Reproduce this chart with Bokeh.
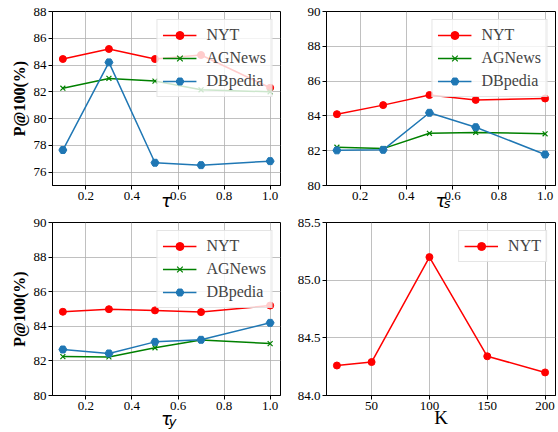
from bokeh.plotting import figure
from bokeh.models import FixedTicker, NumeralTickFormatter, Range1d, LinearAxis
from bokeh.layouts import column, row
from bokeh.embed import file_html
from bokeh.resources import INLINE

# ---- data ----
tau = [0.1, 0.3, 0.5, 0.7, 1.0]
tau_nyt = [84.45, 85.2, 84.45, 84.75, 82.3]
tau_ag = [82.27, 83.0, 82.8, 82.15, 82.0]
tau_db = [77.65, 84.2, 76.7, 76.52, 76.82]

taus_nyt = [84.1, 84.62, 85.2, 84.92, 85.0]
taus_ag = [82.2, 82.12, 83.0, 83.05, 82.97]
taus_db = [82.02, 82.05, 84.18, 83.35, 81.78]

tauy_nyt = [84.84, 84.99, 84.92, 84.82, 85.2]
tauy_ag = [82.25, 82.23, 82.76, 83.21, 83.0]
tauy_db = [82.66, 82.43, 83.1, 83.22, 84.2]

k_vals = [20, 50, 100, 150, 200]
k_nyt = [84.26, 84.29, 85.2, 84.34, 84.2]

tau_ticks = [0.2, 0.4, 0.6, 0.8, 1.0]
k_ticks = [50, 100, 150, 200]
y1_ticks = [76, 78, 80, 82, 84, 86, 88]
y23_ticks = [80, 82, 84, 86, 88, 90]
y4_ticks = [84.0, 84.5, 85.0, 85.5]

RED = "#ff0000"
GREEN = "#008000"
BLUE = "#1f77b4"
SERIF = "'Liberation Serif'"
MATH = "'DejaVu Sans'"


def make_fig(width, height, left, right, top, bottom, xr, yr, xt, yt, xfmt, yfmt):
    p = figure(width=width, height=height, output_backend="svg", toolbar_location=None,
               x_range=Range1d(*xr), y_range=Range1d(*yr),
               min_border_left=left, min_border_right=right,
               min_border_top=top, min_border_bottom=bottom)
    p.outline_line_color = "black"
    p.outline_line_width = 1
    p.outline_line_alpha = 1
    p.xaxis.ticker = FixedTicker(ticks=xt)
    p.xaxis.formatter = NumeralTickFormatter(format=xfmt)
    p.yaxis.ticker = FixedTicker(ticks=yt)
    p.yaxis.formatter = NumeralTickFormatter(format=yfmt)
    for ax in (p.xaxis[0], p.yaxis[0]):
        ax.major_tick_out = 4
        ax.major_tick_in = 0
        ax.minor_tick_line_color = None
        ax.major_label_standoff = 2
        ax.major_label_text_font = SERIF
        ax.major_label_text_font_size = "13px"
        ax.major_label_text_color = "black"
        ax.axis_line_color = "black"
        ax.major_tick_line_color = "black"
    p.grid.grid_line_color = "#b0b0b0"
    p.grid.grid_line_width = 0.8
    return p


def add_series(p, x, y, color, marker, label, size):
    p.line(x, y, line_color=color, line_width=1.5, legend_label=label)
    if marker == "x":
        p.scatter(x, y, marker="x", size=size, line_color=color, line_width=1.2,
                  legend_label=label)
    else:
        p.scatter(x, y, marker=marker, size=size, fill_color=color, line_color=color,
                  legend_label=label)


def style_legend(p):
    lg = p.legend[0]
    lg.location = "top_right"
    lg.margin = 8
    lg.label_text_font = SERIF
    lg.label_text_font_size = "16px"
    lg.glyph_width = 34
    lg.glyph_height = 20
    lg.label_height = 20
    lg.label_standoff = 10
    lg.spacing = 3
    lg.padding = 5
    lg.border_line_color = "#cccccc"
    lg.border_line_width = 1
    lg.background_fill_color = "white"
    lg.background_fill_alpha = 0.8


def xlabel(p, text, standoff, font=MATH, style="italic", size="18px"):
    ax = p.xaxis[0]
    ax.axis_label = text
    ax.axis_label_text_font = font
    ax.axis_label_text_font_style = style
    ax.axis_label_text_font_size = size
    ax.axis_label_text_color = "black"
    ax.axis_label_standoff = standoff


def subscript(p, text, standoff):
    ax = LinearAxis(ticker=FixedTicker(ticks=[]), axis_line_color=None,
                    major_tick_line_color=None, minor_tick_line_color=None,
                    major_label_text_font_size="0px", major_tick_out=0, major_tick_in=0,
                    major_label_standoff=0,
                    axis_label=text, axis_label_text_font=MATH,
                    axis_label_text_font_style="italic", axis_label_text_font_size="13px",
                    axis_label_text_color="black", axis_label_standoff=standoff)
    p.add_layout(ax, "below")


def ylabel(p, standoff):
    ax = p.yaxis[0]
    ax.axis_label = "P@100(%)"
    ax.axis_label_text_font = SERIF
    ax.axis_label_text_font_style = "bold"
    ax.axis_label_text_font_size = "16px"
    ax.axis_label_text_color = "black"
    ax.axis_label_standoff = standoff


LW, LL, LR = 282, 52, 2
RW, RL, RR = 276, 44, 3
TH, TT, TB = 214, 11, 29
BH, BT, BB = 218, 8, 37

# panel 1: tau
p1 = make_fig(LW, TH, LL, LR, TT, TB, (0.055, 1.045), (75, 88), tau_ticks, y1_ticks, "0.0", "0")
add_series(p1, tau, tau_nyt, RED, "circle", "NYT", 7)
add_series(p1, tau, tau_ag, GREEN, "x", "AGNews", 7)
add_series(p1, tau, tau_db, BLUE, "hex", "DBpedia", 8)
style_legend(p1)
xlabel(p1, "τ", -13)
ylabel(p1, 3)

# panel 2: tau_s
p2 = make_fig(RW, TH, RL, RR, TT, TB, (0.055, 1.045), (80, 90), tau_ticks, y23_ticks, "0.0", "0")
add_series(p2, tau, taus_nyt, RED, "circle", "NYT", 7)
add_series(p2, tau, taus_ag, GREEN, "x", "AGNews", 7)
add_series(p2, tau, taus_db, BLUE, "hex", "DBpedia", 8)
style_legend(p2)
xlabel(p2, "τ", -13)
subscript(p2, "\u00a0\u00a0\u00a0s", -18)

# panel 3: tau_y
p3 = make_fig(LW, BH, LL, LR, BT, BB, (0.055, 1.045), (80, 90), tau_ticks, y23_ticks, "0.0", "0")
add_series(p3, tau, tauy_nyt, RED, "circle", "NYT", 7)
add_series(p3, tau, tauy_ag, GREEN, "x", "AGNews", 7)
add_series(p3, tau, tauy_db, BLUE, "hex", "DBpedia", 8)
style_legend(p3)
xlabel(p3, "τ", -5)
subscript(p3, "\u00a0\u00a0\u00a0y", -18)
ylabel(p3, 3)

# panel 4: K
p4 = make_fig(RW, BH, RL, RR, BT, BB, (11, 209), (84.0, 85.5), k_ticks, y4_ticks, "0", "0.0")
add_series(p4, k_vals, k_nyt, RED, "circle", "NYT", 7)
style_legend(p4)
xlabel(p4, "K", -6, font=SERIF, style="normal", size="19px")

layout = column(row(p1, p2), row(p3, p4))
open("out.html", "w").write(file_html(layout, INLINE))
